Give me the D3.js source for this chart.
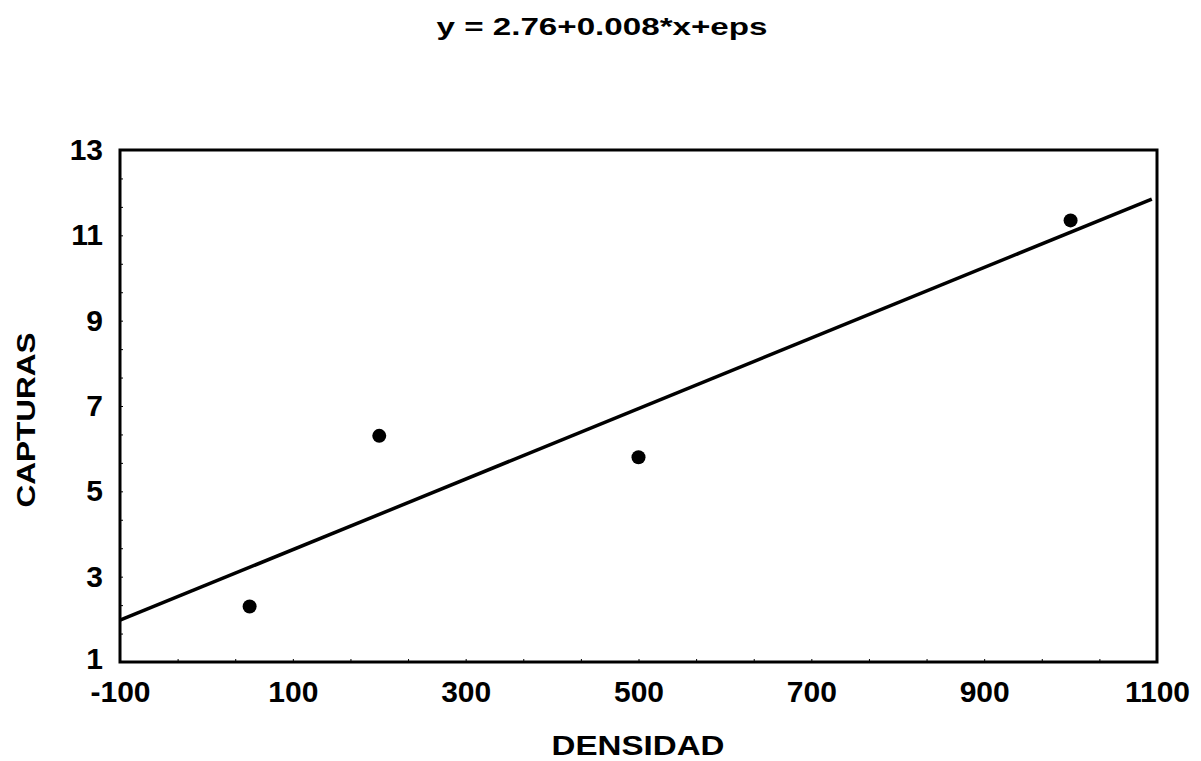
<!DOCTYPE html>
<html>
<head>
<meta charset="utf-8">
<script src="https://cdn.jsdelivr.net/npm/d3@7"></script>
<style>
  body { margin: 0; background: #fff; }
  svg text { font-family: "Liberation Sans", Arial, sans-serif; fill: #000; font-weight: bold; }
  .axis path, .axis line { stroke: #000; }
</style>
</head>
<body>
<svg width="1201" height="761"></svg>
<script>
// data
const densidad = [50, 200, 500, 1000];
const capturas = [2.3, 6.3, 5.8, 11.35];
// fitted line, drawn from its two ends
const fitX = [-100, 1094];
const fitY = [1.98, 11.85];
const xTicks = [-100, 100, 300, 500, 700, 900, 1100];
const yTicks = [1, 3, 5, 7, 9, 11, 13];
const title = 'y = 2.76+0.008*x+eps';

const margin = { top: 150, right: 44, bottom: 99, left: 120 },
  width = 1201 - margin.left - margin.right,
  height = 761 - margin.top - margin.bottom;

const x = d3.scaleLinear().domain([-100, 1100]).range([0, width]);
const y = d3.scaleLinear().domain([1, 13]).range([height, 0]);

const svg = d3.select('svg');

svg.append('text')
  .attr('x', 602).attr('y', 35)
  .attr('text-anchor', 'middle')
  .attr('font-size', 24)
  .attr('textLength', 331)
  .attr('lengthAdjust', 'spacingAndGlyphs')
  .text(title);

const g = svg.append('g')
  .attr('transform', `translate(${margin.left}, ${margin.top})`);

// minor ticks, small and pointing inside
const xMinor = d3.range(-100, 1100.1, 200 / 3);
const yMinor = d3.range(1, 13.01, 2 / 3);

g.append('g')
  .attr('class', 'axis')
  .attr('transform', `translate(0, ${height})`)
  .call(d3.axisTop(x).tickValues(xMinor).tickSize(3).tickSizeOuter(0).tickFormat(''))
  .call(s => s.select('.domain').remove());
g.append('g')
  .attr('class', 'axis')
  .call(d3.axisRight(y).tickValues(yMinor).tickSize(3).tickSizeOuter(0).tickFormat(''))
  .call(s => s.select('.domain').remove());

// x axis
const xAxis = g.append('g')
  .attr('class', 'axis')
  .attr('transform', `translate(0, ${height})`)
  .call(d3.axisBottom(x).tickValues(xTicks).tickFormat(d => String(d)).tickSize(0).tickSizeOuter(0).tickPadding(19));
xAxis.selectAll('text').attr('font-size', 30).attr('dy', '0.71em');

// y axis
const yAxis = g.append('g')
  .attr('class', 'axis')
  .call(d3.axisLeft(y).tickValues(yTicks).tickSize(0).tickSizeOuter(0).tickPadding(17));
yAxis.selectAll('text').attr('font-size', 30);
yAxis.selectAll('.tick').filter(d => d === 1).select('text').attr('dy', '0.2em');

// frame
g.append('rect')
  .attr('width', width).attr('height', height)
  .attr('fill', 'none').attr('stroke', '#000').attr('stroke-width', 3);

// regression line
const line = d3.line().x(d => x(d[0])).y(d => y(d[1]));
g.append('path')
  .datum(d3.zip(fitX, fitY))
  .attr('d', line)
  .attr('fill', 'none').attr('stroke', '#000').attr('stroke-width', 3.5);

// points
g.selectAll('.dot')
  .data(d3.zip(densidad, capturas))
  .enter()
  .append('circle')
  .attr('class', 'dot')
  .attr('cx', d => x(d[0]))
  .attr('cy', d => y(d[1]))
  .attr('r', 7)
  .attr('fill', '#000');

// axis titles
svg.append('text')
  .attr('x', 638).attr('y', 755)
  .attr('text-anchor', 'middle')
  .attr('font-size', 28)
  .attr('textLength', 173)
  .attr('lengthAdjust', 'spacingAndGlyphs')
  .text('DENSIDAD');

svg.append('text')
  .attr('transform', 'translate(35, 420) rotate(-90)')
  .attr('text-anchor', 'middle')
  .attr('font-size', 25)
  .attr('textLength', 175)
  .attr('lengthAdjust', 'spacingAndGlyphs')
  .text('CAPTURAS');
</script>
</body>
</html>
